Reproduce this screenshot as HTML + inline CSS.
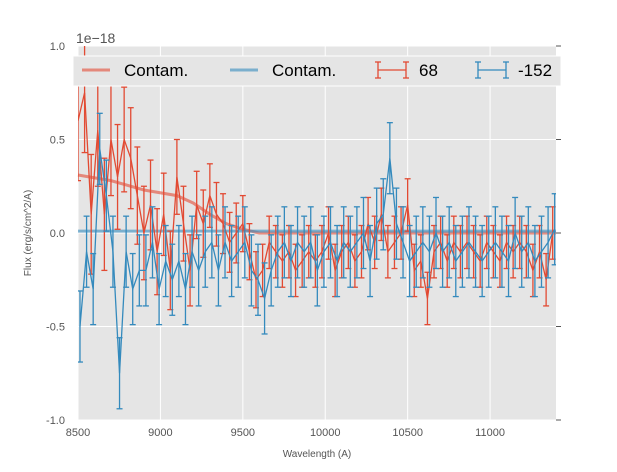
<!DOCTYPE html>
<html><head><meta charset="utf-8"><style>
body{margin:0;background:#fff;font-family:"Liberation Sans",sans-serif}
</style></head><body>
<svg id="chart" width="617" height="467" xmlns="http://www.w3.org/2000/svg" font-family="Liberation Sans, sans-serif">
<rect x="78" y="46" width="478" height="374" fill="#e5e5e5"/>
<g id="grid"></g>
<g id="contam"></g>
<g id="series"></g>
<g id="ticks"></g>
<text x="76" y="43" font-size="14" fill="#555">1e−18</text>
<text x="317" y="457" font-size="10" fill="#555" text-anchor="middle">Wavelength (A)</text>
<text transform="translate(31,233) rotate(-90)" font-size="10" fill="#555" text-anchor="middle">Flux (erg/s/cm^2/A)</text>
<g>
<rect x="73" y="56" width="488" height="30" fill="#e5e5e5" stroke="#fff" stroke-width="1"/>
<line x1="82" y1="70" x2="110" y2="70" stroke="#E24A33" stroke-opacity="0.6" stroke-width="3"/>
<text x="124" y="76" font-size="17" fill="#000">Contam.</text>
<line x1="230" y1="70" x2="258" y2="70" stroke="#348ABD" stroke-opacity="0.6" stroke-width="3"/>
<text x="272" y="76" font-size="17" fill="#000">Contam.</text>
<g stroke="#E24A33" stroke-width="1.3"><line x1="378" y1="70" x2="406" y2="70"/><line x1="378" y1="62" x2="378" y2="78"/><line x1="406" y1="62" x2="406" y2="78"/><line x1="375" y1="62" x2="381" y2="62"/><line x1="375" y1="78" x2="381" y2="78"/><line x1="403" y1="62" x2="409" y2="62"/><line x1="403" y1="78" x2="409" y2="78"/></g>
<text x="419" y="76" font-size="17" fill="#000">68</text>
<g stroke="#348ABD" stroke-width="1.3"><line x1="478" y1="70" x2="506" y2="70"/><line x1="478" y1="62" x2="478" y2="78"/><line x1="506" y1="62" x2="506" y2="78"/><line x1="475" y1="62" x2="481" y2="62"/><line x1="475" y1="78" x2="481" y2="78"/><line x1="503" y1="62" x2="509" y2="62"/><line x1="503" y1="78" x2="509" y2="78"/></g>
<text x="518" y="76" font-size="17" fill="#000">-152</text>
</g>
</svg>
<script>
const waves=[];for(let w=8500;w<=11380;w+=40)waves.push(w);
const redVals=[0.6,0.75,0.1,0.55,0.1,0.5,0.3,0.5,0.4,0.2,0.0,0.15,-0.1,0.1,-0.2,0.3,0.05,-0.2,0.15,0.05,0.2,0.1,0.05,-0.05,0.0,0.05,-0.1,-0.25,-0.2,-0.05,-0.1,-0.15,-0.1,-0.2,-0.15,-0.1,-0.15,-0.1,0.0,-0.2,-0.1,-0.05,-0.15,-0.1,0.05,-0.05,0.1,-0.1,-0.05,0.0,0.15,-0.2,-0.15,-0.35,-0.1,-0.05,-0.15,-0.05,-0.1,-0.05,-0.1,-0.15,-0.05,-0.1,-0.15,-0.05,-0.1,-0.05,-0.1,-0.2,-0.1,-0.25,0.0];
const blueVals=[-0.5,-0.1,-0.3,0.45,0.2,-0.1,-0.75,-0.1,-0.3,-0.2,-0.2,-0.05,-0.3,-0.15,-0.25,-0.15,-0.3,-0.1,-0.2,-0.1,-0.05,-0.2,-0.05,-0.15,-0.1,-0.05,-0.2,-0.25,-0.35,-0.2,-0.1,-0.05,-0.15,-0.05,-0.1,-0.05,-0.2,-0.1,-0.05,-0.15,-0.05,-0.1,-0.05,0.0,-0.15,0.05,0.1,0.4,0.05,-0.05,-0.15,-0.1,-0.05,-0.1,0.0,-0.1,-0.05,-0.15,-0.1,-0.05,-0.1,-0.15,-0.1,-0.05,-0.1,-0.15,0.0,-0.1,-0.05,-0.15,-0.1,-0.05,0.02];
const redErr=[0.32,0.32,0.32,0.3,0.3,0.3,0.28,0.28,0.27,0.26,0.25,0.24,0.23,0.22,0.21,0.2,0.2,0.19,0.18,0.18,0.17,0.17,0.16,0.16,0.16,0.15,0.15,0.15,0.14,0.14];
const blueErr=0.19;
const contamW=[8500,8700,8900,9100,9200,9300,9400,9500,9600,11400];
const contamRed=[0.31,0.28,0.23,0.2,0.16,0.1,0.05,0.02,0.0,0.0];
const contamBlue=[0.01,0.01];
const contamBlueW=[8500,11400];
const xTicks=[8500,9000,9500,10000,10500,11000];
const yTicks=[-1.0,-0.5,0.0,0.5,1.0];
const X=w=>78+(w-8500)*(478/2900);
const Y=v=>233-v*187;
const NS='http://www.w3.org/2000/svg';
function mk(p,tag,a){const e=document.createElementNS(NS,tag);for(const k in a)e.setAttribute(k,a[k]);p.appendChild(e);return e;}
const grid=document.getElementById('grid'),ticks=document.getElementById('ticks');
xTicks.forEach(t=>{
 const g=mk(grid,'line',{x1:X(t),x2:X(t),y1:46,y2:420,stroke:'#fff','stroke-width':1});
 
 
 const tx=mk(ticks,'text',{x:X(t),y:436,'font-size':11,fill:'#555','text-anchor':'middle'});tx.textContent=t;
 
 
});
yTicks.forEach(t=>{
 const g=mk(grid,'line',{x1:78,x2:556,y1:Y(t),y2:Y(t),stroke:'#fff','stroke-width':1});
 
 
 const tx=mk(ticks,'text',{x:65,y:Y(t)+4,'font-size':11,fill:'#555','text-anchor':'end'});tx.textContent=t.toFixed(1);
 
 
 mk(ticks,'line',{x1:556,x2:561,y1:Y(t),y2:Y(t),stroke:'#555'});
});
const series=document.getElementById('series');
const clip=mk(document.getElementById('chart'),'clipPath',{id:'cp'});mk(clip,'rect',{x:78,y:46,width:478,height:374});
series.setAttribute('clip-path','url(#cp)');
function draw(vals,errF,color,name){
 const g=mk(series,'g',{stroke:color,'stroke-width':1.3,fill:'none'});
 
 
 vals.forEach((v,i)=>{const x=X(waves[i]+(name==='series-152'?12:0)),e=errF(i);
  mk(g,'line',{x1:x,x2:x,y1:Y(v-e),y2:Y(v+e)});
  mk(g,'line',{x1:x-3,x2:x+3,y1:Y(v-e),y2:Y(v-e)});
  mk(g,'line',{x1:x-3,x2:x+3,y1:Y(v+e),y2:Y(v+e)});});
 mk(g,'polyline',{points:vals.map((v,i)=>X(waves[i]+(name==='series-152'?12:0))+','+Y(v)).join(' ')});
}
const c=document.getElementById('contam');
const cr=mk(c,'polyline',{points:contamW.map((w,i)=>X(w)+','+Y(contamRed[i])).join(' '),stroke:'#E24A33','stroke-opacity':0.6,'stroke-width':3,fill:'none'});


const cb=mk(c,'polyline',{points:contamBlueW.map((w,i)=>X(w)+','+Y(contamBlue[i])).join(' '),stroke:'#348ABD','stroke-opacity':0.6,'stroke-width':3,fill:'none'});


draw(redVals,i=>redErr[Math.min(i,redErr.length-1)],'#E24A33','series-68');
draw(blueVals,()=>blueErr,'#348ABD','series-152');
</script>
</body></html>
